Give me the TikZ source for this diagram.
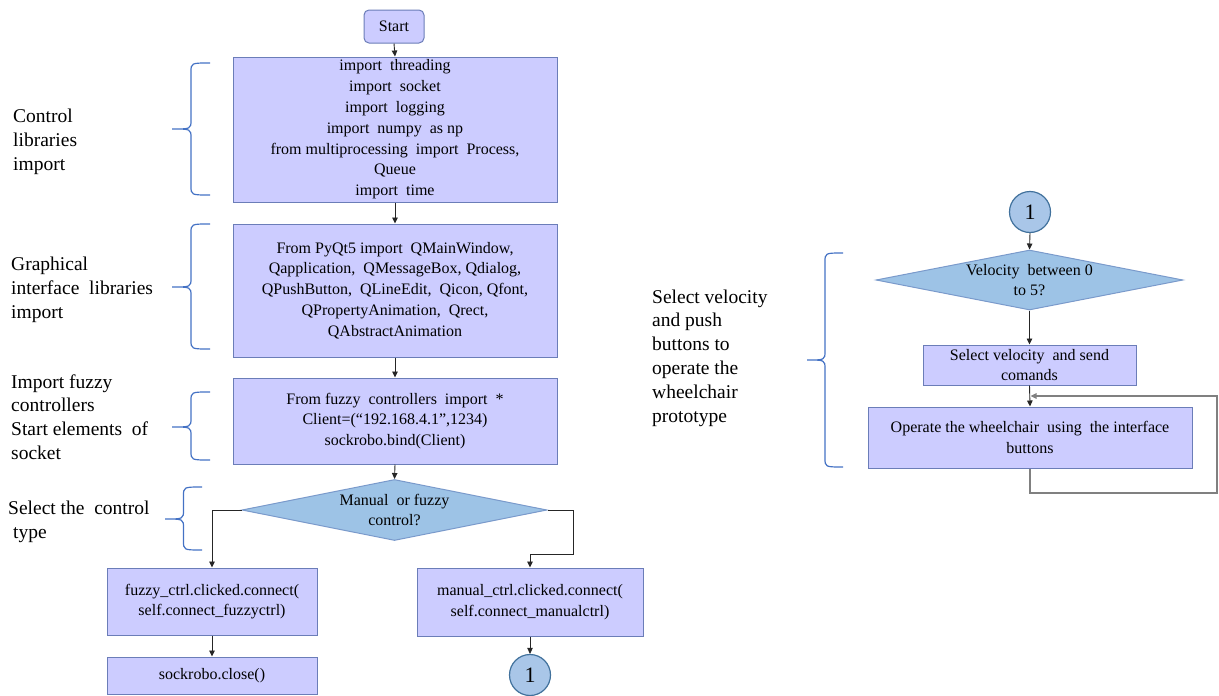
\documentclass[tikz,border=0pt]{standalone}
\usepackage{fontspec}
\setmainfont{Liberation Serif}
\usetikzlibrary{arrows.meta,shapes.geometric}
\definecolor{boxfill}{HTML}{CCCCFF}
\definecolor{boxdraw}{HTML}{6B7DB8}
\definecolor{diafill}{HTML}{9DC3E6}
\definecolor{diadraw}{HTML}{7A9ACB}
\definecolor{circfill}{HTML}{A9C6E8}
\definecolor{circdraw}{HTML}{41719C}
\definecolor{bracecol}{HTML}{4472C4}
\definecolor{loopcol}{HTML}{808080}
\newcommand\boxfont{\fontsize{16}{20.8}\selectfont}
\newcommand\lblfont{\fontsize{19.5}{23.8}\selectfont}
% #1 x of ends, #2 offset, #3 y top, #4 y mid, #5 y bottom
\newcommand\mybrace[5]{%
  \draw[bracestyle] (#1,#3) .. controls (#1-#2,#3) and (#1-#2,#3) .. (#1-#2,#3+9)
    -- (#1-#2,#4-9) .. controls (#1-#2,#4) and (#1-#2,#4) .. (#1-2*#2,#4)
    .. controls (#1-#2,#4) and (#1-#2,#4) .. (#1-#2,#4+9)
    -- (#1-#2,#5-9) .. controls (#1-#2,#5) and (#1-#2,#5) .. (#1,#5);}
\begin{document}
\begin{tikzpicture}[x=1pt,y=-1pt,
  box/.style={draw=boxdraw, fill=boxfill, line width=1pt, inner sep=0pt, align=center, font=\boxfont},
  startbox/.style={box, rounded corners=5pt},
  decision/.style={diamond, aspect=5, draw=diadraw, fill=diafill, line width=1pt, inner sep=-10pt, align=center, font=\boxfont},
  connector/.style={circle, draw=circdraw, fill=circfill, line width=1.2pt, minimum size=41pt, inner sep=0pt, font=\fontsize{22}{22}\selectfont},
  arr/.style={-{Triangle[length=6pt,width=5.5pt]}, line width=0.9pt, draw=black!85},
  looparr/.style={-{Triangle[length=6pt,width=5.5pt]}, line width=1.2pt, draw=loopcol},
  lbl/.style={align=left, anchor=west, font=\lblfont, inner sep=0pt},
  bracestyle/.style={draw=bracecol, line width=1.2pt}
]
\useasboundingbox (0,0) rectangle (1219,696);

% left column
\node[startbox, minimum width=60pt, minimum height=33pt] (start) at (394,26.5) {Start};
\node[box, minimum width=324pt, minimum height=145pt] (b1) at (395,129.5)
  {import\ \ threading\\import\ \ socket\\import\ \ logging\\import\ \ numpy\ \ as np\\from multiprocessing\ \ import\ \ Process,\\Queue\\import\ \ time};
\node[box, minimum width=324pt, minimum height=133pt] (b2) at (395,290.5)
  {From PyQt5 import\ \ QMainWindow,\\Qapplication,\ \ QMessageBox, Qdialog,\\QPushButton,\ \ QLineEdit,\ \ Qicon, Qfont,\\QPropertyAnimation,\ \ Qrect,\\QAbstractAnimation};
\node[box, minimum width=324pt, minimum height=86pt] (b3) at (395,421)
  {From fuzzy\ \ controllers\ \ import\ \ *\\Client=(“192.168.4.1”,1234)\\sockrobo.bind(Client)};
\node[decision, minimum width=305pt, minimum height=61pt] (d1) at (394.5,510) {Manual\ \ or fuzzy\\control?};
\node[box, minimum width=210pt, minimum height=67pt] (b4) at (212,601.5)
  {fuzzy\_ctrl.clicked.connect(\\self.connect\_fuzzyctrl)};
\node[box, minimum width=210pt, minimum height=37pt] (b6) at (212,675.5) {sockrobo.close()};
\node[box, minimum width=226pt, minimum height=68pt] (b5) at (530,602)
  {manual\_ctrl.clicked.connect(\\self.connect\_manualctrl)};
\node[connector] (c1) at (530,675) {1};

% right column
\node[connector] (c2) at (1030,212) {1};
\node[decision, minimum width=307pt, minimum height=60pt] (d2) at (1029.5,280) {Velocity\ \ between 0\\to 5?};
\node[box, minimum width=213pt, minimum height=40pt] (b7) at (1029.5,365) {Select velocity\ \ and send\\comands};
\node[box, minimum width=324pt, minimum height=61pt] (b8) at (1030,437.5) {Operate the wheelchair\ \ using\ \ the interface\\buttons};

% connectors
\draw[arr] (start.south) -- (b1.north);
\draw[arr] (b1.south) -- (b2.north);
\draw[arr] (b2.south) -- (b3.north);
\draw[arr] (b3.south) -- (d1.north);
\draw[arr] (d1.west) -| (b4.north);
\coordinate (jog) at (573,554);
\draw[arr] (d1.east) -| (jog) -| (b5.north);
\draw[arr] (b4.south) -- (b6.north);
\draw[arr] (b5.south) -- (c1.north);
\draw[arr] (c2.south) -- (d2.north);
\draw[arr] (d2.south) -- (b7.north);
\draw[arr] (b7.south) -- (b8.north);
\coordinate (loopR) at (1217,493);
\coordinate (loopJ) at (1030.5,396);
\draw[looparr] (b8.south) |- (loopR) |- (loopJ);

% braces
\mybrace{210}{19}{63}{129}{195}
\mybrace{210}{19}{224}{287}{349}
\mybrace{210}{19}{392}{427}{460}
\mybrace{202}{18.5}{487}{519}{550}
\mybrace{843}{18}{253}{360}{467}

% labels
\node[lbl] (l1) at (13,142) {Control\\libraries\\import};
\node[lbl] (l2) at (11,290) {Graphical\\interface\ \ libraries\\import};
\node[lbl] (l3) at (11,417) {Import fuzzy\\controllers\\Start elements\ \ of\\socket};
\node[lbl] (l4) at (8,522) {Select the\ \ control\\\hspace*{5pt}type};
\node[lbl] (l5) at (652,358) {Select velocity\\and push\\buttons to\\operate the\\wheelchair\\prototype};
\end{tikzpicture}
\end{document}
